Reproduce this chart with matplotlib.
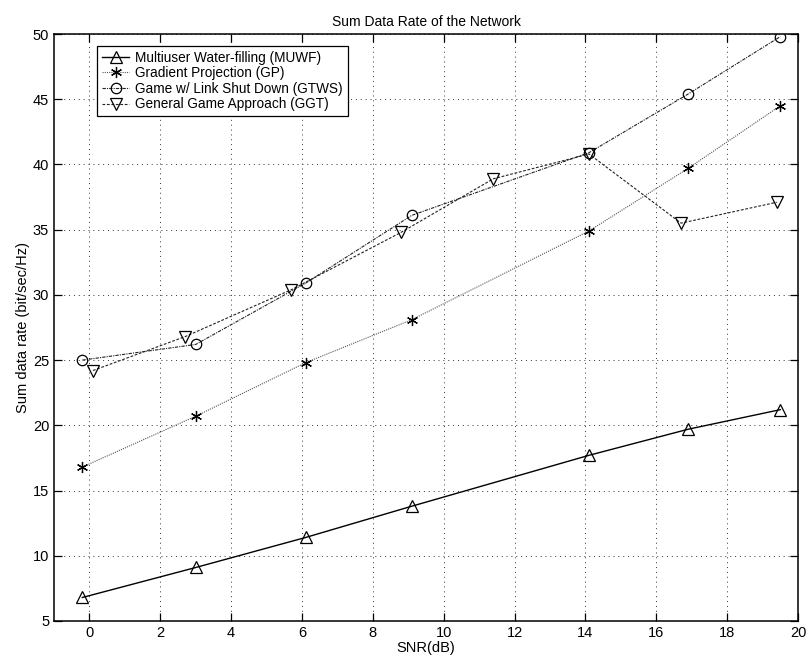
import matplotlib.pyplot as plt
import numpy as np

plt.rcParams['font.family'] = ['Liberation Sans', 'DejaVu Sans']

# data
snr_muwf = [-0.2, 3.0, 6.1, 9.1, 14.1, 16.9, 19.5]
rate_muwf = [6.8, 9.1, 11.4, 13.8, 17.7, 19.7, 21.2]

snr_gp = [-0.2, 3.0, 6.1, 9.1, 14.1, 16.9, 19.5]
rate_gp = [16.8, 20.7, 24.8, 28.1, 34.9, 39.7, 44.5]

snr_gtws = [-0.2, 3.0, 6.1, 9.1, 14.1, 16.9, 19.5]
rate_gtws = [25.0, 26.2, 30.9, 36.1, 40.9, 45.4, 49.8]

snr_ggt = [0.1, 2.7, 5.7, 8.8, 11.4, 14.1, 16.7, 19.4]
rate_ggt = [24.2, 26.8, 30.4, 34.8, 38.9, 40.8, 35.5, 37.1]

labels = ['Multiuser Water-filling (MUWF)', 'Gradient Projection (GP)',
          'Game w/ Link Shut Down (GTWS)', 'General Game Approach (GGT)']

fig = plt.figure(figsize=(8.1, 6.68), dpi=100)
ax = fig.add_axes([0.0667, 0.0704, 0.9185, 0.8787])

mk = dict(markerfacecolor='none', markeredgewidth=0.9, mec='black')
ax.plot(snr_muwf, rate_muwf, '-', color='black', lw=1.0, marker='^', markersize=9, **mk, label=labels[0])
ax.plot(snr_gp, rate_gp, color='#555555', lw=0.8, ls=(0, (1, 1)), marker=(6, 2, 0), markersize=8, **mk, label=labels[1])
ax.plot(snr_gtws, rate_gtws, color='#222222', lw=0.8, ls=(0, (3, 1, 1, 1)), marker='o', markersize=7.5, **mk, label=labels[2])
ax.plot(snr_ggt, rate_ggt, color='#222222', lw=0.8, ls=(0, (2.5, 1.5)), marker='v', markersize=9, **mk, label=labels[3])

ax.set_xlim(-1, 20)
ax.set_ylim(5, 50)
ax.set_xticks(np.arange(0, 21, 2))
ax.set_yticks(np.arange(5, 51, 5))
ax.grid(True, color='#333333', ls=(0, (1, 4)), lw=0.7)
ax.tick_params(direction='in', top=True, right=True, length=6, labelsize=10.5, width=0.9)
for s in ax.spines.values():
    s.set_linewidth(1.1)

ax.set_title('Sum Data Rate of the Network', fontsize=10, pad=6)
ax.set_xlabel('SNR(dB)', fontsize=10.5, labelpad=1)
ax.set_ylabel('Sum data rate (bit/sec/Hz)', fontsize=10.5, labelpad=2)

leg = ax.legend(loc='upper left', bbox_to_anchor=(0.058, 0.98), fontsize=9.8,
                fancybox=False, framealpha=1, edgecolor='black', handlelength=2.0,
                borderpad=0.35, labelspacing=0.12, handletextpad=0.45, borderaxespad=0)
leg.get_frame().set_linewidth(0.9)

fig.savefig('out.png', dpi=100)
